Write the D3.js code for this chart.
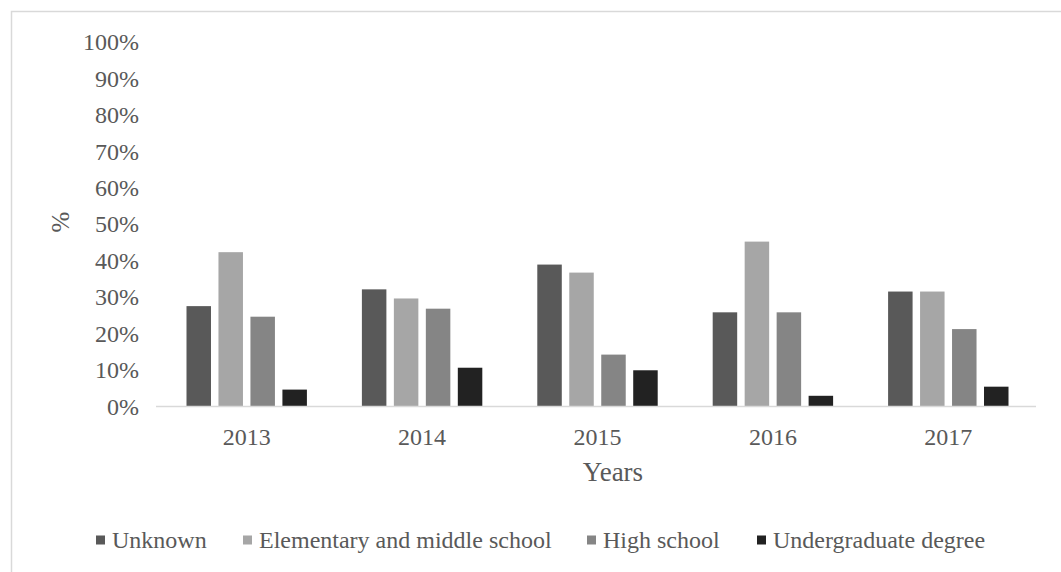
<!DOCTYPE html>
<html>
<head>
<meta charset="utf-8">
<script src="https://cdn.jsdelivr.net/npm/d3@7"></script>
<style>
  html, body { margin: 0; padding: 0; background: #ffffff; }
  svg { display: block; }
  text { font-family: "Liberation Serif", "Times New Roman", serif; fill: #595959; }
</style>
</head>
<body>
<svg id="chart" width="1061" height="572"></svg>
<script>
// Share of cases by education level, per year
const years = ["2013", "2014", "2015", "2016", "2017"];
const seriesNames = ["Unknown", "Elementary and middle school", "High school", "Undergraduate degree"];
const unknown     = [27.4, 32.0, 38.8, 25.7, 31.4];
const elementary  = [42.2, 29.5, 36.6, 45.1, 31.4];
const highSchool  = [24.5, 26.7, 14.1, 25.7, 21.1];
const undergrad   = [4.5, 10.5, 9.8, 2.8, 5.3];
const yTicks = [0, 10, 20, 30, 40, 50, 60, 70, 80, 90, 100];
const seriesColors = ["#595959", "#a6a6a6", "#858585", "#222222"];

const seriesValues = [unknown, elementary, highSchool, undergrad];
const rows = years.map((y, i) => ({
  year: y,
  values: seriesNames.map((s, k) => ({ series: s, k, value: seriesValues[k][i] }))
}));

const svg = d3.select("#chart");
const FONT = "24px";

// outer frame (runs off the right and bottom edges)
svg.append("rect")
  .attr("x", 11.5).attr("y", 11.5)
  .attr("width", 1100).attr("height", 700)
  .attr("fill", "#ffffff")
  .attr("stroke", "#d9d9d9")
  .attr("stroke-width", 1.5);

const plot = { left: 159, right: 1036, top: 41.5, bottom: 406 };

const x = d3.scaleBand().domain(years).range([plot.left, plot.right]).paddingInner(0).paddingOuter(0);
const xInner = d3.scaleBand().domain(seriesNames).range([0, x.bandwidth()])
  .paddingInner(0.234).paddingOuter(0.86);
const y = d3.scaleLinear().domain([0, 100]).range([plot.bottom, plot.top]);
const color = d3.scaleOrdinal().domain(seriesNames).range(seriesColors);

// y axis: labels only
const yAxis = d3.axisLeft(y).tickValues(yTicks).tickFormat(d => d + "%").tickSize(0).tickPadding(0);
const gy = svg.append("g").attr("transform", `translate(139,0)`).call(yAxis);
gy.select(".domain").remove();
gy.selectAll("text")
  .style("font-family", '"Liberation Serif", serif')
  .style("font-size", FONT)
  .attr("fill", "#595959")
  .attr("dy", "0.34em");

// bars
const groups = svg.append("g").selectAll("g").data(rows).join("g")
  .attr("transform", d => `translate(${x(d.year)},0)`);
groups.selectAll("rect").data(d => d.values).join("rect")
  .attr("x", d => xInner(d.series))
  .attr("width", xInner.bandwidth())
  .attr("y", d => y(d.value))
  .attr("height", d => y(0) - y(d.value))
  .attr("fill", d => color(d.series));

// x axis
const xAxis = d3.axisBottom(x).tickSize(0).tickPadding(0);
const gx = svg.append("g").attr("transform", `translate(0,${plot.bottom})`).call(xAxis);
gx.select(".domain")
  .attr("stroke", "#d9d9d9")
  .attr("stroke-width", 1.5)
  .attr("d", `M${plot.left - 3},0.5H${plot.right}`);
gx.selectAll("text")
  .style("font-family", '"Liberation Serif", serif')
  .style("font-size", FONT)
  .attr("fill", "#595959")
  .attr("y", 31)
  .attr("dy", "0.34em");

// axis titles
svg.append("text")
  .attr("x", 613).attr("y", 472)
  .attr("dy", "0.34em")
  .attr("text-anchor", "middle")
  .style("font-size", "27px")
  .text("Years");

svg.append("text")
  .attr("transform", "translate(60,222) rotate(-90)")
  .attr("dy", "0.34em")
  .attr("text-anchor", "middle")
  .style("font-size", "25px")
  .text("%");

// legend
const legendX = [96, 243, 587, 757];
const legend = svg.append("g").selectAll("g").data(seriesNames).join("g")
  .attr("transform", (d, i) => `translate(${legendX[i]},540)`);
legend.append("rect")
  .attr("x", 0).attr("y", -4.5)
  .attr("width", 9).attr("height", 9)
  .attr("fill", d => color(d));
legend.append("text")
  .attr("x", 16).attr("y", 0)
  .attr("dy", "0.34em")
  .style("font-size", FONT)
  .text(d => d);
</script>
</body>
</html>
